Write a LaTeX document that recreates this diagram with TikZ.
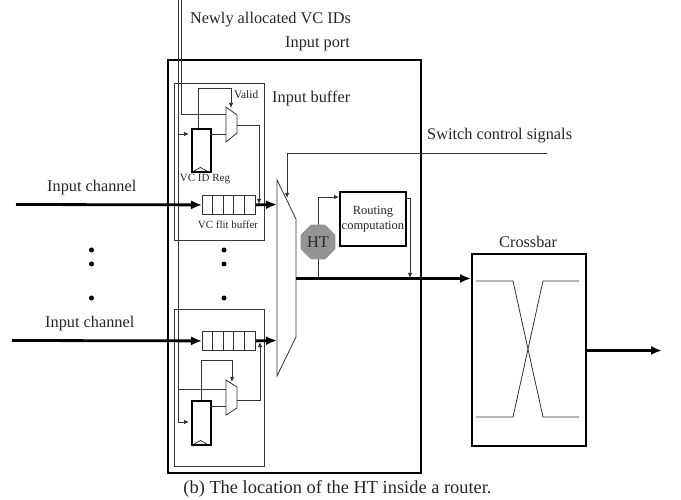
\documentclass[tikz,border=0pt]{standalone}
\usepackage{fontspec}
\setmainfont{Liberation Serif}
\usetikzlibrary{arrows.meta,shapes.geometric}
\tikzset{
 thin line/.style={draw=black!80,line width=0.8pt},
 sig/.style={thin line,-{Latex[length=5pt,width=4.5pt]}},
 bus/.style={draw=black,line width=2.8pt,-{Latex[length=11pt,width=9pt]}},
 thick box/.style={draw=black,line width=1.9pt},
 lbl/.style={font=\fontsize{16.3}{18}\selectfont,inner sep=0pt,text=black!85},
 small/.style={font=\fontsize{11}{12}\selectfont,inner sep=0pt,text=black!85,align=center},
 dotm/.style={circle,fill=black,inner sep=0pt,minimum size=5pt},
}
\begin{document}
\begin{tikzpicture}[x=1pt,y=-1pt]
\useasboundingbox (0,0) rectangle (681,500);
% port
\node[thick box,draw,minimum width=253pt,minimum height=413pt,inner sep=0pt,anchor=north west] (port) at (167,59) {};
\node[thin line,draw,minimum width=90pt,minimum height=157pt,inner sep=0pt,anchor=north west] (buf1) at (174,83) {};
\node[thin line,draw,minimum width=90pt,minimum height=157pt,inner sep=0pt,anchor=north west] (buf2) at (174,309) {};
% big mux
\draw[thin line] (277,180) -- (296,219) -- (296,337) -- (277,376) -- cycle;
\coordinate (muxctl) at (287,198);
\coordinate (ctlend) at (547,153);
\draw[sig] (ctlend) -- (287,153) -- (muxctl);
% registers
\node[thick box,draw,minimum width=19pt,minimum height=43pt,inner sep=0pt,anchor=north west] (reg1) at (191,128) {};
\node[thick box,draw,minimum width=19pt,minimum height=44pt,inner sep=0pt,anchor=north west] (reg2) at (191,400) {};
\draw[thin line] (194,171) -- (200.5,167.5) -- (207,171);
\draw[thin line] (194,444) -- (200.5,440.5) -- (207,444);
% small muxes
\draw[thin line] (226,107) -- (237,115) -- (237,133) -- (226,142) -- cycle;
\draw[thin line] (226,380) -- (237,387) -- (237,408) -- (226,415) -- cycle;
% bus lines from the top
\coordinate (t1) at (178.5,0);
\coordinate (t2) at (181,0);
\draw[thin line] (t2) -- (181,114) -- (226,114);
\draw[sig] (t1) -- (178.5,134) -- (189,134);
\draw[sig] (t1) -- (178.5,422) -- (189,422);
\draw[thin line] (178.5,389) -- (226,389);
% reg loop
\draw[sig] (198,128) -- (198,88) -- (231,88) -- (231,108);
\draw[thin line] (210,134) -- (226,134);
\draw[sig] (237,125) -- (259,125) -- (259,204);
\draw[sig] (201,400) -- (201,360) -- (232,360) -- (232,382);
\draw[thin line] (210,406) -- (226,406);
\draw[sig] (237,400) -- (260,400) -- (260,342);
% flit buffers
\node[thin line,draw,minimum width=53pt,minimum height=19pt,inner sep=0pt,anchor=north west] (fb1) at (202,195) {};
\node[thin line,draw,minimum width=53pt,minimum height=19pt,inner sep=0pt,anchor=north west] (fb2) at (202,331) {};
\foreach \i in {1,2,3,4}{
 \draw[thin line] (202+10.6*\i,195) -- (202+10.6*\i,214);
 \draw[thin line] (202+10.6*\i,331) -- (202+10.6*\i,350);
}
\coordinate (in1) at (16,204.5);
\coordinate (in2) at (12,340.5);
\draw[bus] (in1) -- (fb1.west);
\draw[bus] (in2) -- (fb2.west);
\draw[bus] (fb1.east) -- (277,204.5);
\draw[bus] (fb2.east) -- (277,340.5);
% routing
\node[thick box,draw,minimum width=66pt,minimum height=54pt,inner sep=0pt,anchor=north west,small,font=\fontsize{12.5}{15}\selectfont,fill=white] (rc) at (339,191) {Routing\\computation};
\draw[thin line] (318,278) -- (318,197);
\draw[sig] (318,197) -- (339,197);
\draw[sig] (405,198) -- (410,198) -- (410,278);
\node[regular polygon,regular polygon sides=8,fill=black!42,minimum size=37.5pt,inner sep=0pt,lbl] (ht) at (318,242) {HT};
% crossbar
\node[thick box,draw,minimum width=114pt,minimum height=192pt,inner sep=0pt,anchor=north west] (xbar) at (471,253) {};
\coordinate (busin) at (296,278.5);
\draw[bus] (busin) -- (xbar.west|-busin);
\draw[thin line] (476,281) -- (513,281) -- (543,417) -- (579,417);
\draw[thin line] (476,417) -- (513,417) -- (543,281) -- (579,281);
\coordinate (out) at (662,350.5);
\draw[bus] (xbar.east|-out) -- (out);
% dots
\foreach \n/\x/\y in {a/91.5/250,b/91.5/264,c/91.5/298,d/224/250,e/224/264,f/224/298}
 \node[dotm] (\n) at (\x,\y) {};
% labels
\node[lbl,anchor=west] (l1) at (190,20) {Newly allocated VC IDs};
\node[lbl,anchor=west] (l2) at (285,44) {Input port};
\node[lbl,anchor=west] (l3) at (272,98) {Input buffer};
\node[lbl,anchor=west] (l4) at (427,136) {Switch control signals};
\node[lbl,anchor=west] (l5) at (47,188) {Input channel};
\node[lbl,anchor=west] (l6) at (45,324) {Input channel};
\node[lbl,anchor=west] (l7) at (499,242) {Crossbar};
\node[lbl,anchor=center,font=\fontsize{18.4}{20}\selectfont] (l8) at (337.5,489) {(b) The location of the HT inside a router.};
\node[small,anchor=west,font=\fontsize{11.4}{12}\selectfont] (l9) at (234,95) {Valid};
\node[small,anchor=center] (l10) at (205,179) {VC ID Reg};
\node[small,anchor=center] (l11) at (228,225) {VC flit buffer};
\end{tikzpicture}
\end{document}
